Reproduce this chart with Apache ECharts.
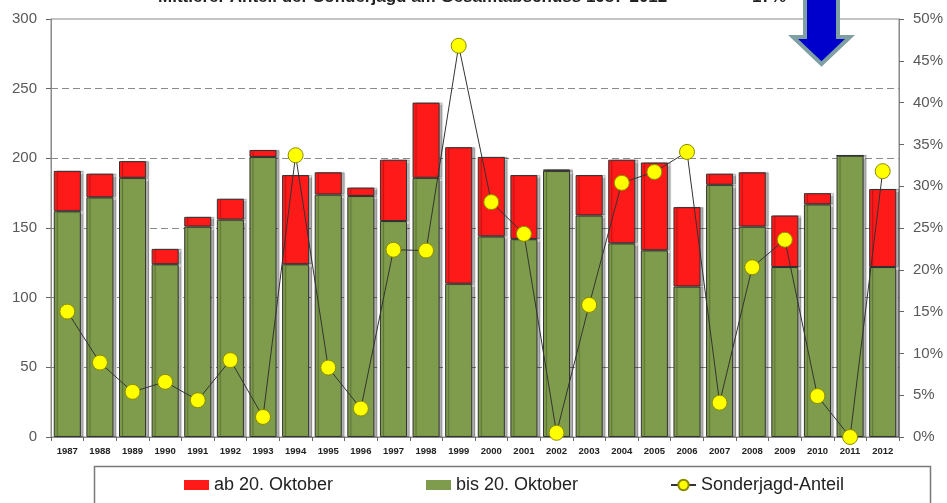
<!DOCTYPE html>
<html>
<head>
<meta charset="utf-8">
<script src="https://cdn.jsdelivr.net/npm/echarts@6/dist/echarts.min.js"></script>
<style>
html,body{margin:0;padding:0;background:#fff;}
#chart{width:947px;height:503px;}
</style>
</head>
<body>
<div id="chart"></div>
<script>
var years = ['1987','1988','1989','1990','1991','1992','1993','1994','1995','1996','1997','1998','1999','2000','2001','2002','2003','2004','2005','2006','2007','2008','2009','2010','2011','2012'];
var bisOktober = [162,172,186,124,151,156,201,124,174,173,155,186,110,144,142,191,159,139,134,108,181,151,122,167,202,122];
var abOktober  = [29,17,12,11,7,15,5,64,16,6,44,54,98,57,46,1,29,60,63,57,8,39,37,8,0,56];
var anteil     = [15.0,8.9,5.4,6.6,4.4,9.2,2.4,33.7,8.3,3.4,22.4,22.3,46.8,28.1,24.3,0.5,15.8,30.4,31.7,34.1,4.1,20.3,23.6,4.9,0,31.8];
var leftTicks = {min:0, max:300, interval:50};
var rightTicks = {min:0, max:50, interval:5};
var titleText = 'Mittlerer Anteil der Sonderjagd am Gesamtabschuss 1987-2012';
var meanText = '17%';

var FONT = '"Liberation Sans", Arial, sans-serif';
var chart = echarts.init(document.getElementById('chart'), null, {renderer:'canvas'});
var barShadow = {shadowColor:'rgba(0,0,0,0.3)', shadowOffsetX:3, shadowBlur:1};
var legendText = {fontSize:18, color:'#222', fontFamily:FONT};
chart.setOption({
  animation:false,
  grid:{left:51, right:48, top:19, bottom:66, show:true, borderColor:'#8a8a8a', borderWidth:1},
  legend:[
    {data:[{name:'ab 20. Oktober', icon:'rect'}], left:184, top:476, padding:0, itemWidth:25, itemHeight:10,
     itemStyle:{borderWidth:0, shadowBlur:0, shadowOffsetX:0, shadowColor:'transparent'}, textStyle:legendText},
    {data:[{name:'bis 20. Oktober', icon:'rect'}], left:426, top:476, padding:0, itemWidth:25, itemHeight:10,
     itemStyle:{borderWidth:0, shadowBlur:0, shadowOffsetX:0, shadowColor:'transparent'}, textStyle:legendText},
    {data:['Sonderjagd-Anteil'], left:670, top:476, padding:0, itemWidth:25, itemHeight:13, textStyle:legendText}
  ],
  xAxis:{
    type:'category', data:years, boundaryGap:true,
    axisLine:{lineStyle:{color:'#8a8a8a'}},
    axisTick:{show:true, length:4, lineStyle:{color:'#666'}},
    axisLabel:{fontSize:9.5, fontWeight:'bold', color:'#222', margin:9, fontFamily:FONT, interval:0}
  },
  yAxis:[
    {type:'value', min:leftTicks.min, max:leftTicks.max, interval:leftTicks.interval,
     axisLine:{show:true, lineStyle:{color:'#8a8a8a'}},
     axisTick:{show:true, length:5, lineStyle:{color:'#666'}},
     axisLabel:{fontSize:15, color:'#595959', margin:14, fontFamily:FONT},
     splitLine:{show:true, showMinLine:false, showMaxLine:false, lineStyle:{color:'#8a8a8a', type:[7,4], width:1}}},
    {type:'value', min:rightTicks.min, max:rightTicks.max, interval:rightTicks.interval, position:'right',
     axisLine:{show:true, lineStyle:{color:'#8a8a8a'}},
     axisTick:{show:true, length:5, lineStyle:{color:'#666'}},
     axisLabel:{fontSize:15, color:'#595959', margin:14, fontFamily:FONT, formatter:'{value}%'},
     splitLine:{show:false}}
  ],
  series:[
    {name:'bis 20. Oktober', type:'bar', stack:'a', data:bisOktober, barWidth:'83%',
     itemStyle:Object.assign({color:'#7E9C4B', borderColor:'#333', borderWidth:1}, barShadow)},
    {name:'ab 20. Oktober', type:'bar', stack:'a', data:abOktober, barWidth:'83%',
     itemStyle:Object.assign({color:'#FF1A1A', borderColor:'#333', borderWidth:1}, barShadow)},
    {name:'Sonderjagd-Anteil', type:'line', yAxisIndex:1, data:anteil, symbol:'circle', symbolSize:15,
     lineStyle:{color:'#333', width:1},
     itemStyle:{color:'#FFFF00', borderColor:'#8a8a00', borderWidth:1}}
  ],
  graphic:[
    {type:'text', left:158, top:-11, style:{text:titleText, font:'bold 17px "Liberation Sans", Arial', fill:'#222'}},
    {type:'text', left:752, top:-11, style:{text:meanText, font:'bold 17px "Liberation Sans", Arial', fill:'#222'}},
    {type:'polygon', shape:{points:[[805,-10],[838,-10],[838,37],[850,37],[821.5,64],[793,37],[805,37]]},
     style:{fill:'#0000CC', stroke:'#7F9FA3', lineWidth:4}},
    {type:'rect', shape:{x:94.5, y:466.5, width:836, height:60}, style:{fill:'none', stroke:'#7a7a7a', lineWidth:1.5}, z:-1}
  ]
});
</script>
</body>
</html>
